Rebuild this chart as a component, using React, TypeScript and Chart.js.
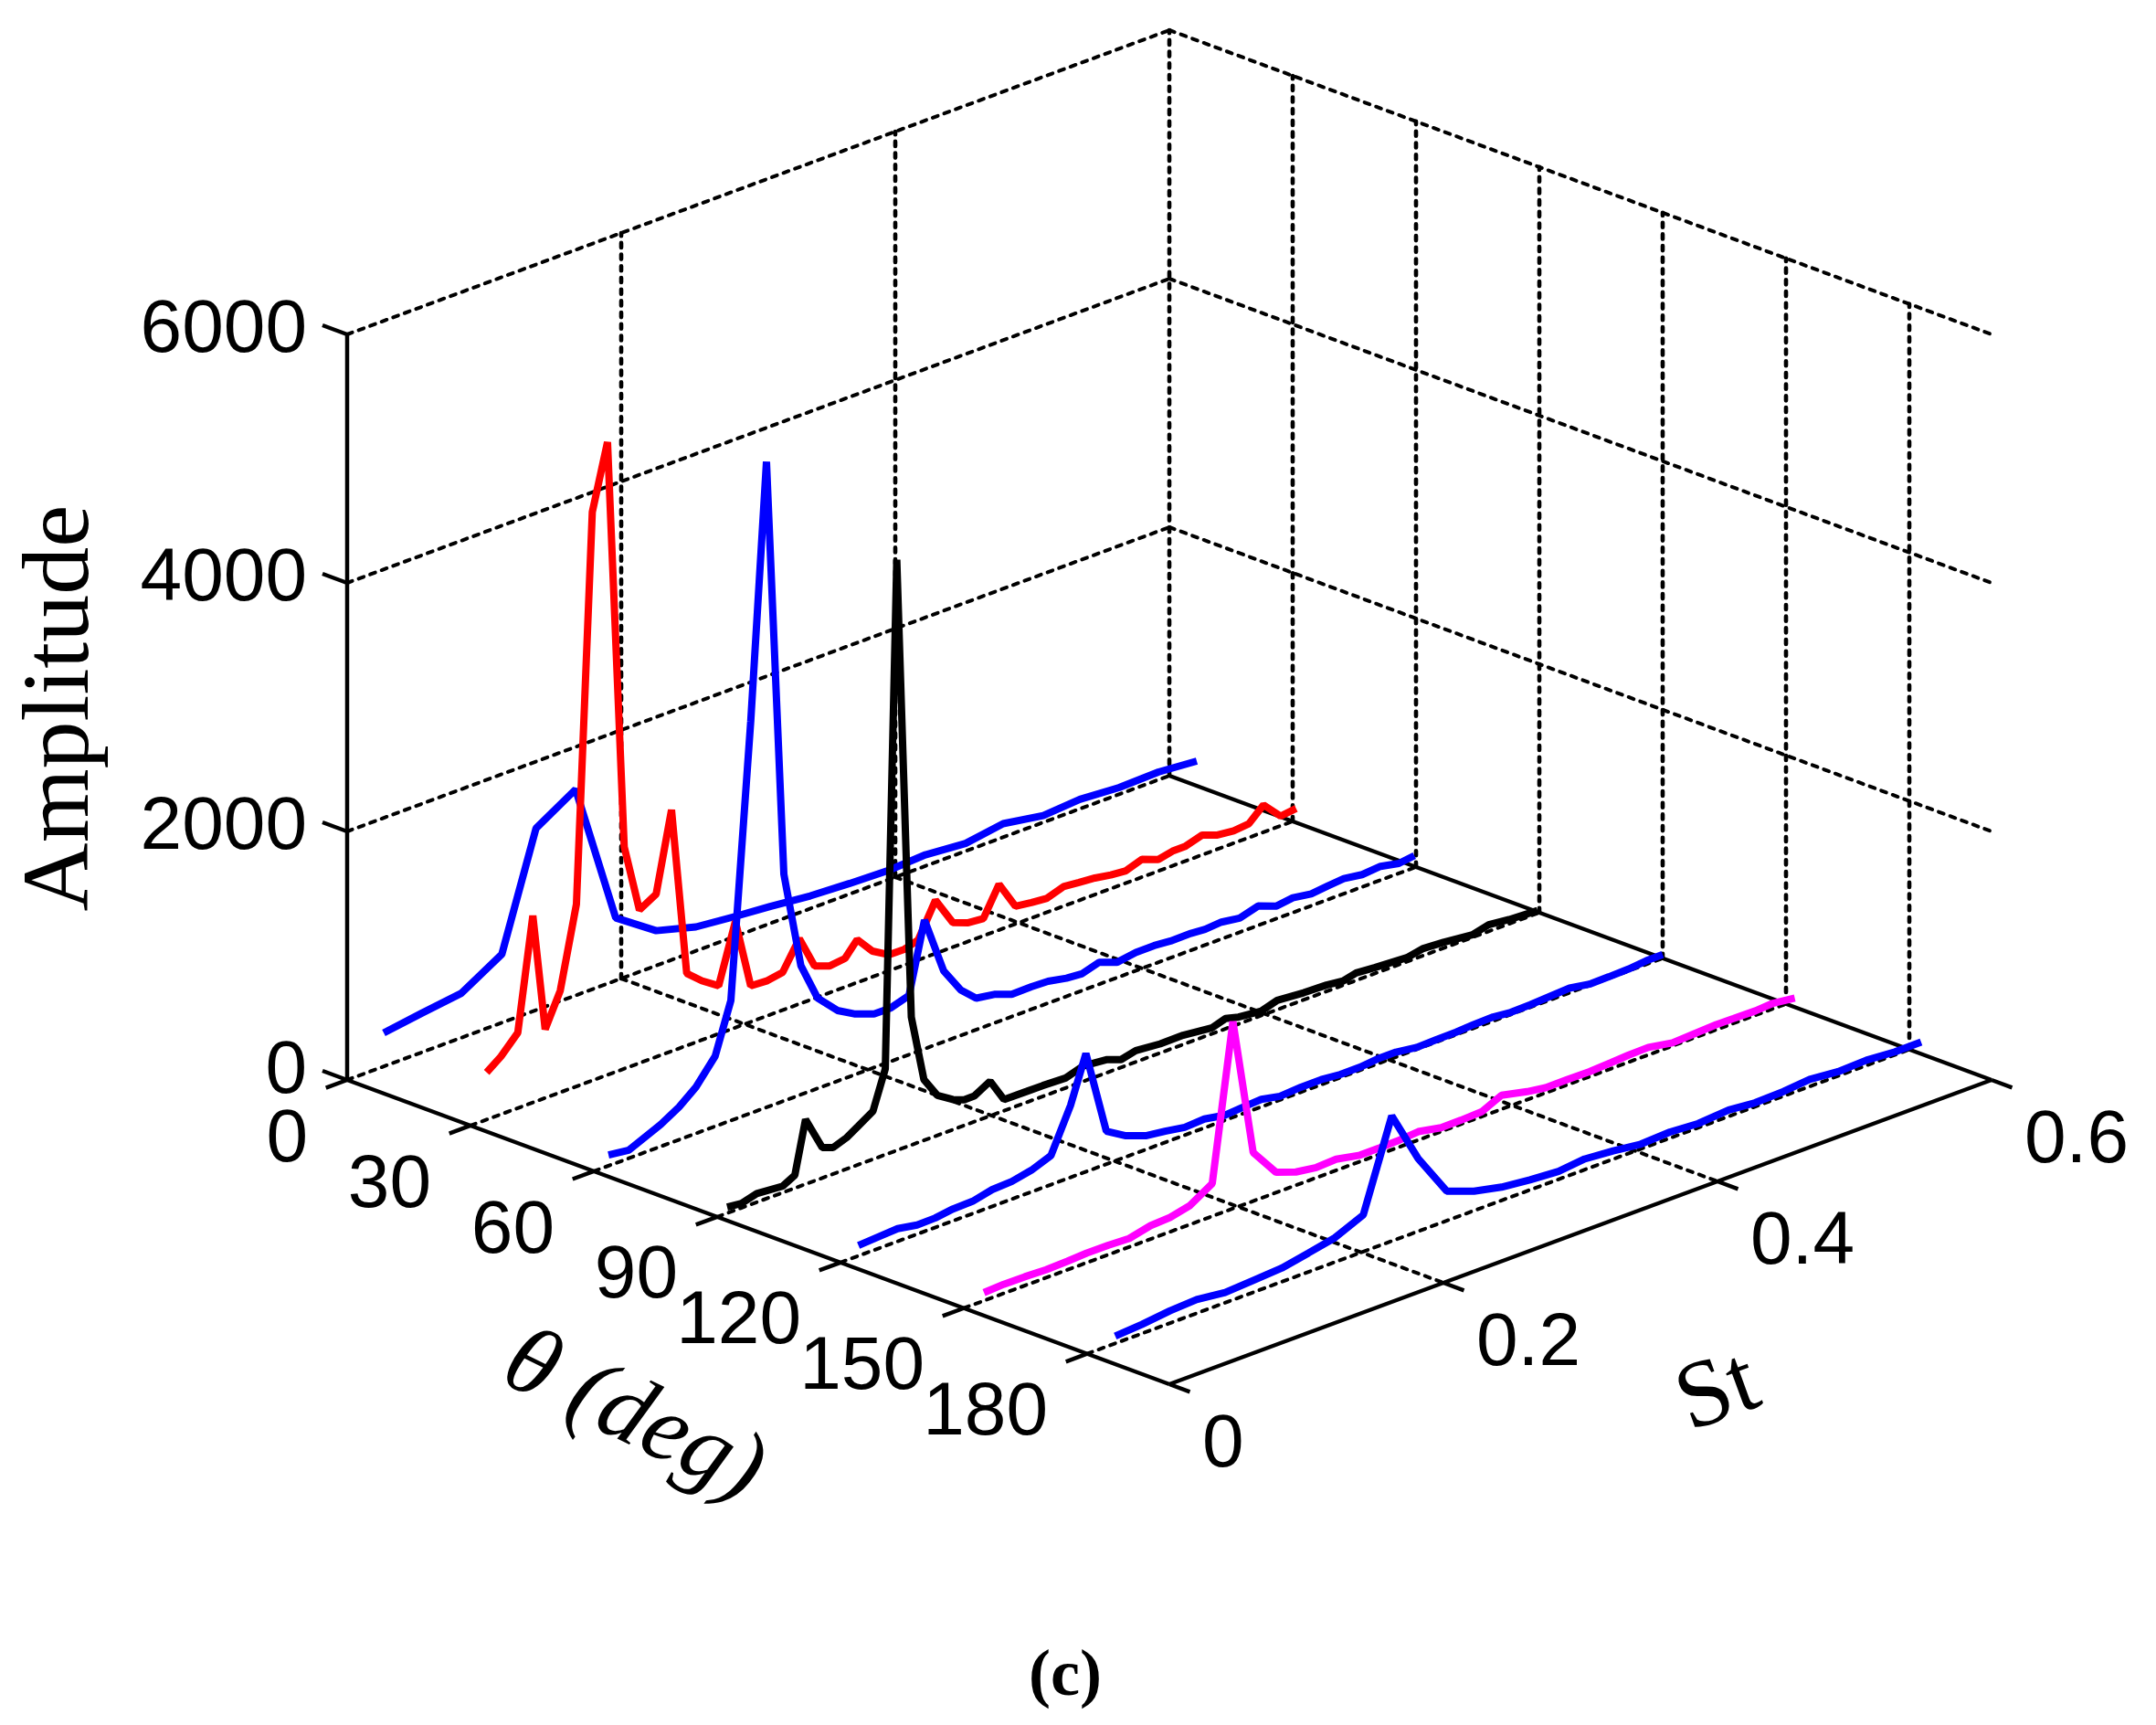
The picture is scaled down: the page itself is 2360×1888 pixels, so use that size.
import React, { useEffect, useRef } from "react";
import { Chart, registerables } from "chart.js";

Chart.register(...registerables);

const thetaTicks = [0, 30, 60, 90, 120, 150, 180];
const stTicks = [0, 0.2, 0.4, 0.6];
const ampTicks = [0, 2000, 4000, 6000];
const stTickLabels = ["0", "0.2", "0.4", "0.6"];
const thetaLimit = 200;
const stLimit = 0.6;
const ampLimit = 6000;

const st0 = [.0267,.0545,.0833,.1129,.1378,.1667,.196,.2255,.2545,.2833,.3087,.338,.3667,.3953,.422,.4513,.4787,.508,.5347,.5633,.592,.62];
const amp0 = [270,315,358,551,1462,1658,504,281,193,160,137,102,85,74,90,62,109,55,76,54,62,36];

const st30 = [.0118,.0222,.0345,.0455,.0545,.0655,.0773,.0889,.1,.1122,.1233,.1355,.1467,.1578,.1689,.1811,.1933,.2045,.2167,.2278,.24,.2511,.2622,.2733,.2822,.2933,.3053,.3167,.3267,.3393,.352,.3633,.3743,.3857,.3977,.4093,.4203,.4327,.444,.4557,.4673,.4783,.49,.5019,.5123,.5213,.534,.5451,.5569,.568,.5787,.5912,.6025];
const amp30 = [380,465,606,1504,553,818,1465,4576,5093,1785,1232,1310,1942,581,476,386,854,290,282,304,525,260,215,230,345,207,129,127,160,429,197,150,138,368,142,124,112,157,144,133,110,99,143,93,118,118,159,114,100,111,219,78,93];

const st60 = [.0107,.0255,.0489,.0622,.0745,.0885,.1,.1145,.126,.1387,.1511,.1633,.1778,.19,.2045,.2167,.23,.2413,.2553,.2677,.279,.293,.305,.3193,.3315,.3449,.356,.3687,.382,.3955,.4089,.4209,.4357,.4461,.458,.4713,.4848,.4982,.5101,.5235,.5353,.5473,.5607,.5741,.5875,.5988];
const amp60 = [87,65,178,263,373,563,965,3151,5196,1824,1038,727,568,491,432,430,475,1037,571,367,254,229,180,182,176,146,135,177,123,146,147,135,136,126,136,113,156,101,119,96,110,121,99,111,80,96];

const st90 = [.0073,.0178,.0289,.0478,.0567,.0645,.0767,.0845,.0945,.1027,.1137,.1227,.1311,.1417,.1509,.1607,.172,.1802,.1877,.1992,.2093,.2257,.2376,.2543,.2673,.284,.2947,.3055,.3233,.34,.3613,.3709,.3805,.3971,.4087,.428,.4447,.4567,.4663,.4797,.5033,.5153,.53,.5511,.563,.5779,.5987];
const amp90 = [49,35,69,52,104,521,245,212,252,309,386,690,4753,1029,489,322,242,206,207,279,90,88,87,80,124,106,63,92,73,74,48,82,55,36,75,57,51,34,60,48,32,57,46,21,53,34,22];

const st120 = [.0131,.0286,.0417,.0559,.0691,.0821,.0964,.1107,.125,.1393,.1536,.1679,.1791,.194,.2083,.2227,.2369,.2512,.2655,.2809,.294,.3071,.3207,.336,.3507,.3647,.379,.3918,.4053,.4205,.4347,.4492,.462,.4763,.4891,.5033,.5178,.532,.5465,.5607,.5752,.588,.6];
const amp120 = [84,94,102,74,76,96,99,135,142,174,234,579,951,265,170,111,90,63,71,40,52,60,29,40,40,25,25,39,39,15,18,20,29,32,17,20,29,37,10,11,15,29,29];

const st150 = [.0147,.0291,.0445,.06,.0755,.0897,.1053,.1207,.1362,.1505,.1647,.1813,.1964,.2112,.2279,.2423,.2573,.2717,.2891,.3036,.3159,.3317,.3483,.3627,.378,.3924,.411,.4246,.4405,.4565,.4724,.4852,.4995,.5171,.533,.549,.5617,.5777,.5905,.6064];
const amp150 = [65,73,71,64,69,77,76,68,108,116,151,263,1505,390,163,107,82,90,51,52,54,67,31,32,38,112,65,41,43,40,48,57,60,25,33,41,38,35,44,20];

const st180 = [.0205,.0399,.0605,.0799,.1007,.1213,.142,.1615,.1808,.2015,.2223,.2416,.2624,.2823,.3024,.3231,.3439,.3631,.3839,.404,.4253,.4459,.4682,.4873,.5081,.5273,.548,.5687,.5895,.6086];
const amp180 = [58,73,99,110,82,96,110,152,196,295,1007,585,238,157,107,81,64,86,66,38,49,33,52,31,37,57,34,42,24,26];

const curves = [
  { theta: 0, st: st0, amp: amp0, color: "#0000ff" },
  { theta: 30, st: st30, amp: amp30, color: "#ff0000" },
  { theta: 60, st: st60, amp: amp60, color: "#0000ff" },
  { theta: 90, st: st90, amp: amp90, color: "#000000" },
  { theta: 120, st: st120, amp: amp120, color: "#0000ff" },
  { theta: 150, st: st150, amp: amp150, color: "#ff00ff" },
  { theta: 180, st: st180, amp: amp180, color: "#0000ff" },
];

// Oblique view of the 3-D box onto the chart's flat x/y scales.
const project = (theta: number, st: number, amp: number) => ({
  x: 380 + 4.5 * theta + 1500 * st,
  y: 1182 + 1.665 * theta - 555 * st - 0.136 * amp,
});

const solid = (pts: { x: number; y: number }[]) => ({
  data: pts,
  borderColor: "#000000",
  borderWidth: 4.5,
  showLine: true,
  pointRadius: 0,
  tension: 0,
  borderCapStyle: "butt" as const,
});

const slant = (pts: { x: number; y: number }[]) => ({
  data: pts,
  borderColor: "#000000",
  borderWidth: 4,
  borderDash: [6, 7.4],
  showLine: true,
  pointRadius: 0,
  tension: 0,
  borderCapStyle: "round" as const,
});

const upright = (pts: { x: number; y: number }[]) => ({
  data: pts,
  borderColor: "#000000",
  borderWidth: 4.6,
  borderDash: [5, 7.7],
  showLine: true,
  pointRadius: 0,
  tension: 0,
  borderCapStyle: "round" as const,
});

function frameDatasets() {
  const out: any[] = [];
  // floor grid
  for (const t of thetaTicks) out.push(slant([project(t, 0, 0), project(t, stLimit, 0)]));
  for (const s of stTicks.slice(1, -1)) out.push(slant([project(0, s, 0), project(thetaLimit, s, 0)]));
  // wall at theta = 0
  for (const a of ampTicks.slice(1)) out.push(slant([project(0, 0, a), project(0, stLimit, a)]));
  for (const s of stTicks.slice(1)) out.push(upright([project(0, s, 0), project(0, s, ampLimit)]));
  // wall at St = 0.6
  for (const a of ampTicks.slice(1)) out.push(slant([project(0, stLimit, a), project(thetaLimit, stLimit, a)]));
  for (const t of thetaTicks.slice(1)) out.push(upright([project(t, stLimit, 0), project(t, stLimit, ampLimit)]));
  // solid axes
  out.push(solid([project(0, 0, 0), project(thetaLimit, 0, 0)]));
  out.push(solid([project(thetaLimit, 0, 0), project(thetaLimit, stLimit, 0)]));
  out.push(solid([project(0, stLimit, 0), project(thetaLimit, stLimit, 0)]));
  out.push(solid([project(0, 0, 0), project(0, 0, ampLimit)]));
  // tick marks
  for (const t of thetaTicks) out.push(solid([project(t, 0, 0), project(t, -0.0155, 0)]));
  for (const s of stTicks) out.push(solid([project(thetaLimit, s, 0), project(thetaLimit + 5, s, 0)]));
  for (const a of ampTicks) out.push(solid([project(0, 0, a), project(-6, 0, a)]));
  return out;
}

const labelsPlugin = {
  id: "boxLabels",
  afterDraw(chart: any) {
    const { ctx, scales } = chart;
    const px = (p: { x: number; y: number }) => ({ x: scales.x.getPixelForValue(p.x), y: scales.y.getPixelForValue(p.y) });
    const write = (text: string, x: number, y: number, font: string, align: CanvasTextAlign, rot = 0) => {
      ctx.save();
      ctx.translate(x, y);
      ctx.rotate(rot);
      ctx.font = font;
      ctx.fillStyle = "#000";
      ctx.textAlign = align;
      ctx.textBaseline = "middle";
      ctx.fillText(text, 0, 0);
      ctx.restore();
    };
    const tickFont = '82px "Liberation Sans"';
    thetaTicks.forEach((t) => {
      const p = px(project(t, 0, 0));
      write(String(t), p.x - 43, p.y + 66, tickFont, "right");
    });
    stTicks.forEach((s, i) => {
      const p = px(project(thetaLimit, s, 0));
      write(stTickLabels[i], p.x + 36, p.y + 67, tickFont, "left");
    });
    ampTicks.forEach((a) => {
      const p = px(project(0, 0, a));
      write(String(a), p.x - 44, p.y - (a === 0 ? 9 : 4), tickFont, "right");
    });
    write("Amplitude", 69, 775, '104px "Liberation Serif"', "center", -Math.PI / 2);
    write("θ (deg)", 693, 1552, 'italic 106px "Liberation Serif"', "center", (26 * Math.PI) / 180);
    write("St", 1881, 1526, '104px "Liberation Serif"', "center", (-20 * Math.PI) / 180);
    write("(c)", 1166, 1836, 'bold 72px "Liberation Serif"', "center");
  },
};

export default function App() {
  const ref = useRef<HTMLCanvasElement>(null);
  useEffect(() => {
    const frame = frameDatasets();
    const traces = curves.map((c) => ({
      data: c.st.map((s, i) => project(c.theta, s, c.amp[i])),
      borderColor: c.color,
      borderWidth: 8,
      showLine: true,
      pointRadius: 0,
      tension: 0,
      borderCapStyle: "butt" as const,
      borderJoinStyle: "bevel" as const,
    }));
    const all = [...frame, ...traces].map((d, i, arr) => ({ ...d, order: arr.length - i }));
    const chart = new Chart(ref.current!, {
      type: "scatter",
      data: { datasets: all },
      options: {
        animation: false,
        responsive: false,
        layout: { padding: 0 },
        plugins: { legend: { display: false }, tooltip: { enabled: false }, title: { display: false } },
        scales: {
          x: { type: "linear", min: 0, max: 2360, display: false },
          y: { type: "linear", min: 0, max: 1888, reverse: true, display: false },
        },
      },
      plugins: [labelsPlugin],
    });
    return () => chart.destroy();
  }, []);
  return (
    <div style={{ position: "absolute", left: 0, top: 0, width: 2360, height: 1888, background: "#fff" }}>
      <canvas ref={ref} width={2360} height={1888} style={{ display: "block" }} />
    </div>
  );
}
